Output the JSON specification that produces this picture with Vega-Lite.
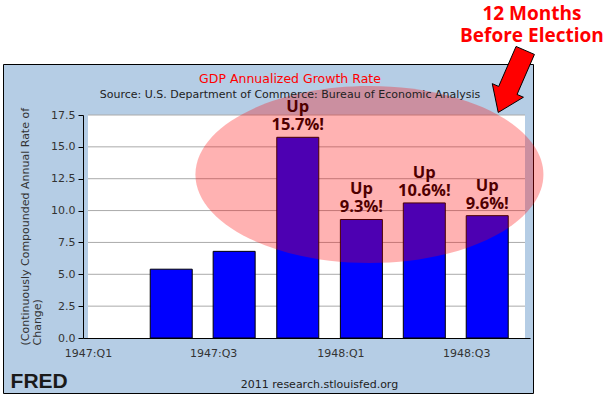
{
  "$schema": "https://vega.github.io/schema/vega-lite/v6.json",
  "width": 530,
  "height": 329,
  "autosize": "none",
  "padding": {"left": 3, "top": 64, "right": 77, "bottom": 3},
  "background": "#ffffff",
  "config": {
    "view": {"fill": "#b5cde5", "stroke": "#000000", "strokeWidth": 1},
    "font": "DejaVu Sans"
  },
  "title": {
    "text": "GDP Annualized Growth Rate",
    "subtitle": "Source: U.S. Department of Commerce: Bureau of Economic Analysis",
    "anchor": "middle",
    "frame": "group",
    "dx": 22,
    "offset": -95,
    "font": "DejaVu Sans",
    "fontSize": 12.5,
    "fontWeight": "normal",
    "color": "#ff0000",
    "subtitleFont": "DejaVu Sans",
    "subtitleFontSize": 11,
    "subtitleColor": "#222222",
    "subtitlePadding": 4
  },
  "datasets": {
    "gdp": [
      {"quarter": "1947-04-01", "growth": 5.4, "note": null},
      {"quarter": "1947-07-01", "growth": 6.8, "note": null},
      {"quarter": "1947-10-01", "growth": 15.75, "note": ["Up", "15.7%!"]},
      {"quarter": "1948-01-01", "growth": 9.3, "note": ["Up", "9.3%!"]},
      {"quarter": "1948-04-01", "growth": 10.6, "note": ["Up", "10.6%!"]},
      {"quarter": "1948-07-01", "growth": 9.6, "note": ["Up", "9.6%!"]}
    ]
  },
  "data": {"name": "gdp"},
  "layer": [
    {
      "data": {"values": [{}]},
      "mark": {"type": "rect", "fill": "#ffffff", "strokeWidth": 0},
      "encoding": {
        "x": {"datum": {"year": 1947, "month": 1, "date": 1, "utc": true}, "type": "temporal"},
        "x2": {"datum": {"year": 1948, "month": 9, "date": 24, "utc": true}},
        "y": {"datum": 0, "type": "quantitative"},
        "y2": {"datum": 17.5}
      }
    },
    {
      "data": {"values": [{"v": 2.5}, {"v": 5}, {"v": 7.5}, {"v": 10}, {"v": 12.5}, {"v": 15}, {"v": 17.5}]},
      "mark": {"type": "rule", "color": "#aaaaaa", "strokeWidth": 1},
      "encoding": {
        "y": {"field": "v", "type": "quantitative"},
        "x": {"datum": {"year": 1947, "month": 1, "date": 1, "utc": true}, "type": "temporal"},
        "x2": {"datum": {"year": 1948, "month": 9, "date": 24, "utc": true}}
      }
    },
    {
      "mark": {"type": "bar", "fill": "#0000ff", "stroke": "#000000", "strokeWidth": 1, "width": 42, "xOffset": 21},
      "encoding": {
        "x": {
          "field": "quarter",
          "type": "temporal",
          "scale": {
            "type": "utc",
            "domain": [{"year": 1947, "month": 1, "date": 1, "utc": true}, {"year": 1948, "month": 9, "date": 24, "utc": true}],
            "range": [80, 527],
            "nice": false
          },
          "axis": {
            "values": [
              {"year": 1947, "month": 1, "date": 1, "utc": true},
              {"year": 1947, "month": 7, "date": 1, "utc": true},
              {"year": 1948, "month": 1, "date": 1, "utc": true},
              {"year": 1948, "month": 7, "date": 1, "utc": true}
            ],
            "format": "%Y:Q%q",
            "ticks": false,
            "grid": false,
            "labelFlush": false,
            "labelOverlap": false,
            "labelPadding": 9,
            "labelFont": "DejaVu Sans",
            "labelFontSize": 11,
            "labelColor": "#333333",
            "domainColor": "#000000",
            "domainWidth": 1,
            "offset": -55,
            "zindex": 1,
            "title": "2011 research.stlouisfed.org",
            "titleFont": "DejaVu Sans",
            "titleFontSize": 11,
            "titleFontWeight": "normal",
            "titleColor": "#222222",
            "titleX": 316,
            "titlePadding": 20
          }
        },
        "y": {
          "field": "growth",
          "type": "quantitative",
          "scale": {"domain": [0, 17.5], "range": [274, 51], "nice": false, "zero": true},
          "axis": {
            "values": [0, 2.5, 5, 7.5, 10, 12.5, 15, 17.5],
            "format": ".1f",
            "grid": false,
            "tickSize": 5,
            "tickColor": "#000000",
            "domainColor": "#000000",
            "labelPadding": 3,
            "labelFont": "DejaVu Sans",
            "labelFontSize": 11,
            "labelColor": "#333333",
            "offset": -80,
            "zindex": 1,
            "title": ["(Continuously Compounded Annual Rate of", "Change)"],
            "titleFont": "DejaVu Sans",
            "titleFontSize": 11,
            "titleFontWeight": "normal",
            "titleColor": "#333333",
            "titleAlign": "left",
            "titleY": 281,
            "titleLineHeight": 12,
            "titlePadding": 8
          }
        }
      }
    },
    {
      "transform": [{"filter": "datum.note != null"}],
      "mark": {"type": "text", "font": "Open Sans", "fontWeight": "bold", "fontSize": 16.5, "color": "#000000", "align": "center", "baseline": "bottom", "dy": -22, "lineHeight": 18, "xOffset": 21},
      "encoding": {
        "x": {"field": "quarter", "type": "temporal"},
        "y": {"field": "growth", "type": "quantitative"},
        "text": {"field": "note"}
      }
    },
    {
      "data": {"values": [{}]},
      "mark": {"type": "point", "shape": "M-1,0C-1,-0.2809,-0.5523,-0.5086,0,-0.5086C0.5523,-0.5086,1,-0.2809,1,0C1,0.2809,0.5523,0.5086,0,0.5086C-0.5523,0.5086,-1,0.2809,-1,0Z", "size": 121104, "filled": true, "fill": "#ff0000", "opacity": 0.3, "strokeWidth": 0},
      "encoding": {
        "x": {"datum": {"year": 1948, "month": 2, "date": 12, "utc": true}, "type": "temporal"},
        "y": {"datum": 12.83, "type": "quantitative"}
      }
    },
    {
      "data": {"values": [{}]},
      "mark": {"type": "point", "shape": "M0.085,-1L0.642,-0.758L0.115,0.455L0.309,0.539L-0.455,1L-0.636,0.127L-0.442,0.212Z", "size": 4356, "filled": true, "fill": "#ff0000", "stroke": "#000000", "strokeWidth": 1, "opacity": 1},
      "encoding": {
        "x": {"datum": {"year": 1948, "month": 9, "date": 7, "utc": true}, "type": "temporal"},
        "y": {"datum": 20.29, "type": "quantitative"}
      }
    },
    {
      "data": {"values": [{}]},
      "mark": {"type": "text", "text": ["12 Months", "Before Election"], "font": "Open Sans", "fontWeight": "bold", "fontSize": 19, "color": "#ff0000", "align": "center", "baseline": "alphabetic", "lineHeight": 22},
      "encoding": {
        "x": {"datum": {"year": 1948, "month": 10, "date": 4, "utc": true}, "type": "temporal"},
        "y": {"datum": 24.95, "type": "quantitative"}
      }
    },
    {
      "data": {"values": [{}]},
      "mark": {"type": "text", "text": "FRED", "font": "Liberation Sans", "fontWeight": 900, "fontSize": 21, "color": "#1a1a1a", "align": "left", "baseline": "alphabetic"},
      "encoding": {
        "x": {"datum": {"year": 1946, "month": 9, "date": 11, "utc": true}, "type": "temporal"},
        "y": {"datum": -3.92, "type": "quantitative"}
      }
    }
  ]
}
